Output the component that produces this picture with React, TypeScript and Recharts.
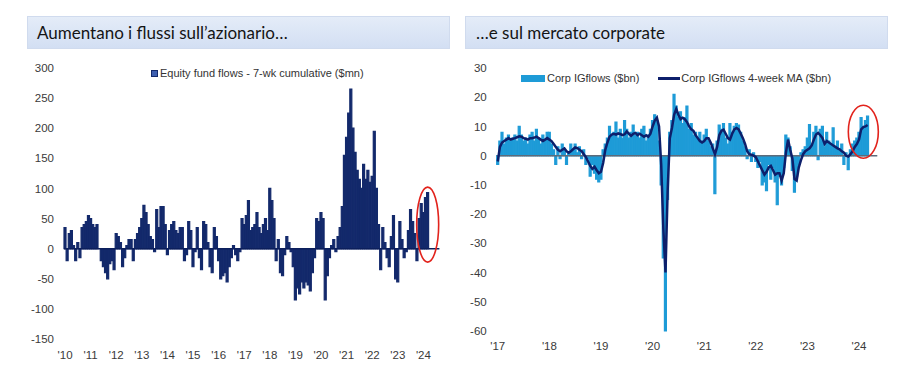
import {
  Bar,
  ComposedChart,
  Legend,
  Line,
  ReferenceDot,
  ReferenceLine,
  XAxis,
  YAxis
} from 'recharts';

// ---- left panel: equity fund flows, monthly, Jan 2010 .. Mar 2024 ----
const equityFlows = [
  35, -20, 25, 30, 5, -20, 10, -15, 35, 40, 45, 55, // 2010
  50, 40, 35, 40, 0, -20, -30, -40, -50, -25, -20, -35, // 2011
  25, 20, 10, -30, -15, 5, 15, 15, -20, 15, 25, 35, // 2012
  50, 72, 60, 40, 20, 15, -5, 65, 35, 70, 70, 40, // 2013
  -10, 30, 40, 45, 30, 25, 35, 35, -20, -10, 45, 30, // 2014
  -30, -5, 35, -15, -35, 45, 40, 10, -30, -40, 35, 20, // 2015
  -20, -50, -45, -40, -55, -30, -15, 5, -10, -20, -5, 50, // 2016
  40, 55, 80, 30, 35, 40, 60, 35, 25, 40, 50, 30, // 2017
  100, 80, 50, -20, 15, -40, -45, -10, 20, 10, -5, -30, // 2018
  -85, -65, -75, -55, -65, -55, -60, -70, -40, -15, 50, 45, // 2019
  60, 50, -85, -45, -15, 5, 15, -5, 20, 35, 70, 155, // 2020
  185, 225, 265, 200, 160, 130, 115, 100, 140, 115, 130, 110, // 2021
  120, 195, 100, 40, -35, 35, 10, -15, -30, 20, 55, -50, // 2022
  -55, 45, 15, -15, -5, 30, 65, 45, 25, -20, 50, 75, // 2023
  60, 85, 93 // 2024
];
const equityMonths = Array.from(
  { length: 176 },
  (_, i) => `${2010 + Math.floor(i / 12)}-${String((i % 12) + 1).padStart(2, '0')}`
);
const equityTicks = equityMonths.filter((m) => m.endsWith('-01'));
const equityYTicks = [-150, -100, -50, 0, 50, 100, 150, 200, 250, 300];

// ---- right panel: corp IG flows, half-monthly, Jan 2017 .. Mar 2024 ----
const corpFlows = [
  -3, 5, 8, 4, 6, 7, 5, 6, 7, 5, 10, 7, 5, 6, 4, 7, 8, 5, 9, 6, 4, 7, 5, 8, // 2017
  8, 4, 2, -3, 3, -1, 4, 2, -3, 1, 4, 2, 4, 1, 3, -1, 2, -3, -1, -7, -3, -6, -8, -9, // 2018
  -8, 2, 4, 6, 10, 7, 8, 11.5, 6, 9, 6, 12, 9, 6, 8, 10.5, 7, 8, 6, 9, 10, 5, 7, 9, // 2019
  12, 14, 12, 5, -10, -35, -60, -15, 8, 12, 21, 17, 13, 15, 11, 13, 17, 9, 11, 7, 8, 6, 8, 5, // 2020
  7, 9, 5, 3, 4, -13, 5, 10.5, 9, 11, 6, 4, 11, 8, 10, 11, 10.5, 8, 5, 3, -1, 2, -2, 1, // 2021
  -2, -4, -2, -10, -9, -12, -3, -8, -4, -9, -16.8, -7, -10, -4, 7, 6, 3, -5, -12.5, -7, -3, 1, 2, 3, // 2022
  6, 10.6, 3, 8, 10, -1.4, 9, 10, 3, 8, 5, 4, 9.5, 3, 5, 2, 4, -3, 1, -4.8, 2, 4, 5, 6, // 2023
  8, 13, 10, 12, 13.5 // 2024
];
const corpMA = [
  -2, 3, 4.5, 5, 5.5, 6, 5.5, 5.8, 6, 6.3, 6.6, 6.5, 6, 5.8, 5.5, 6, 6, 6.2, 6.5, 6, 5.5, 5, 5.5, 6, // 2017
  5.5, 5, 4, 3, 2, 1.5, 2, 2.5, 1.5, 1, 1.5, 2.2, 2.8, 2.6, 2, 1.5, 0.5, -0.5, -2, -3.5, -4.5, -3.8, -5, -6, // 2018
  -5.5, -2.5, 2, 4.5, 6.5, 7.2, 7.5, 7.2, 7.6, 7.4, 7, 7.3, 8.3, 7.5, 6.8, 7.5, 7.8, 7, 7.5, 7, 6.5, 7, 6.5, 7.5, // 2019
  10, 12, 13, 10, -3, -25, -40, -12, 6, 9.5, 14, 16, 14, 12.5, 13, 12.5, 11.5, 10, 9, 8.5, 7, 6, 5, 4.5, // 2020
  5, 6, 6, 4.5, 2.5, 0.5, 3, 7, 8.5, 8.9, 7.5, 6, 5.5, 7.5, 9, 9.5, 9, 7.5, 6, 4, 1.5, 0.5, 0.3, 0, // 2021
  -0.5, -2, -3.5, -5, -6.5, -5.5, -4, -3.5, -5, -6.5, -6, -6, -8.5, -6, 1, 5.5, 2, -1, -8, -8.5, -4, -1.5, 0.5, 1.5, // 2022
  2, 2.5, 3.5, 5.5, 7.2, 7.8, 7, 6, 4, 5, 4.5, 4, 3.5, 3, 2.5, 2.2, 1.5, 1, 0, -0.3, 0.5, 1.5, 3, 4, // 2023
  5.5, 9, 9.8, 10, 10.5 // 2024
];
const corpPeriods = Array.from({ length: 177 }, (_, i) => {
  const m = Math.floor(i / 2);
  return `${2017 + Math.floor(m / 12)}-${String((m % 12) + 1).padStart(2, '0')}${i % 2 ? 'b' : 'a'}`;
});
const corpTicks = corpPeriods.filter((p) => p.endsWith('-01a'));
const corpYTicks = [-60, -50, -40, -30, -20, -10, 0, 10, 20, 30];

const equityData = equityMonths.map((month, i) => ({ month, flow: equityFlows[i] ?? null }));
const corpData = corpPeriods.map((period, i) => ({
  period,
  flows: corpFlows[i] ?? null,
  ma: corpMA[i] ?? null
}));

const NARROW = "'Liberation Sans Narrow', 'Arial Narrow', 'Liberation Sans', sans-serif";
const NAVY = '#13296b';
const LIGHT_BLUE = '#1e9bd7';
const RED = '#e2231c';
const tickStyle = { fontSize: 11.5, fill: '#3a3a3a', fontFamily: NARROW };
const yearLabel = (v: string) => `'${v.slice(2, 4)}`;

function ChartLegend({ payload }: any) {
  return (
    <div style={{ display: 'flex', alignItems: 'center', fontFamily: NARROW, fontSize: 11, color: '#333', whiteSpace: 'nowrap' }}>
      {(payload || []).map((p: any) => (
        <span key={p.value} style={{ display: 'inline-flex', alignItems: 'center', marginRight: 19 }}>
          {p.type === 'line' ? (
            <span style={{ display: 'inline-block', width: 22, height: 3, background: p.color, marginRight: 1 }} />
          ) : p.type === 'square' ? (
            <span style={{ display: 'inline-block', width: 5, height: 5, background: '#3d5fb0', border: `1.5px solid ${p.color}`, marginRight: 2 }} />
          ) : (
            <span style={{ display: 'inline-block', width: 24, height: 7, background: p.color, marginRight: 2 }} />
          )}
          {p.value}
        </span>
      ))}
    </div>
  );
}

const ellipse = (rx: number, ry: number) => (props: any) => (
  <ellipse cx={props.cx} cy={props.cy} rx={rx} ry={ry} fill="none" stroke={RED} strokeWidth={1.6} />
);

function EquityChart() {
  return (
    <ComposedChart
      width={460}
      height={378}
      data={equityData}
      margin={{ top: 68, right: 20.6, bottom: 9, left: 24 }}
      barCategoryGap={0}
      barGap={0}
    >
      <XAxis
        dataKey="month"
        ticks={equityTicks}
        interval={0}
        tickFormatter={yearLabel}
        axisLine={false}
        tickLine={false}
        tickSize={0}
        tickMargin={12}
        height={30}
        tick={tickStyle}
      />
      <YAxis
        domain={[-150, 300]}
        ticks={equityYTicks}
        interval={0}
        width={40}
        axisLine={false}
        tickLine={false}
        tickSize={0}
        tickMargin={10}
        tick={tickStyle}
      />
      <Bar
        dataKey="flow"
        name="Equity fund flows - 7-wk cumulative ($mn)"
        fill={NAVY}
        stroke={NAVY}
        strokeWidth={1.2}
        legendType="square"
        isAnimationActive={false}
      />
      <ReferenceLine y={0} stroke="#0c1f5c" strokeWidth={1.5} />
      <ReferenceDot x="2024-03" y={40} r={1} shape={ellipse(11, 37.5)} />
      <Legend
        verticalAlign="middle"
        align="center"
        layout="horizontal"
        wrapperStyle={{ top: 67, left: 151, width: 'auto' }}
        content={<ChartLegend />}
      />
    </ComposedChart>
  );
}

function CorpChart() {
  return (
    <ComposedChart
      width={456}
      height={378}
      data={corpData}
      margin={{ top: 68, right: 38.7, bottom: 17, left: 6.7 }}
      barCategoryGap={0}
      barGap={0}
    >
      <XAxis
        dataKey="period"
        ticks={corpTicks}
        interval={0}
        tickFormatter={yearLabel}
        axisLine={false}
        tickLine={false}
        tickSize={0}
        tickMargin={11}
        height={30}
        tick={tickStyle}
      />
      <YAxis
        domain={[-60, 30]}
        ticks={corpYTicks}
        interval={0}
        width={30}
        axisLine={false}
        tickLine={false}
        tickSize={0}
        tickMargin={10}
        tick={tickStyle}
      />
      <Bar
        dataKey="flows"
        name="Corp IGflows ($bn)"
        fill={LIGHT_BLUE}
        stroke={LIGHT_BLUE}
        strokeWidth={1.2}
        legendType="rect"
        isAnimationActive={false}
      />
      <ReferenceLine y={0} stroke="#5d6b7a" strokeWidth={1.5} />
      <Line
        dataKey="ma"
        name="Corp IGflows 4-week MA ($bn)"
        type="linear"
        stroke="#0d1f6b"
        strokeWidth={2.5}
        dot={false}
        legendType="line"
        isAnimationActive={false}
      />
      <ReferenceDot x={corpPeriods[170]} y={8.2} r={1} shape={ellipse(15, 26.5)} />
      <Legend
        verticalAlign="middle"
        align="center"
        layout="horizontal"
        wrapperStyle={{ top: 72, left: 61, width: 'auto' }}
        content={<ChartLegend />}
      />
    </ComposedChart>
  );
}

const titleStyle = (left: number, width: number) => ({
  position: 'absolute' as const,
  left,
  top: 16,
  width,
  height: 33,
  boxSizing: 'border-box' as const,
  background: 'linear-gradient(to bottom, #e4ecf8, #d3dff3)',
  border: '1px solid #d0dbee',
  fontFamily: 'Lato, sans-serif',
  fontSize: 17,
  lineHeight: '31px',
  color: '#141414',
  paddingLeft: 9
});

export default function App() {
  return (
    <div style={{ position: 'absolute', left: 0, top: 0, width: 916, height: 378, background: '#fff', overflow: 'hidden' }}>
      <div style={{ position: 'absolute', left: 0, top: 0 }}>
        <EquityChart />
      </div>
      <div style={{ position: 'absolute', left: 460, top: 0 }}>
        <CorpChart />
      </div>
      <div style={titleStyle(27, 423)}>Aumentano i flussi sull’azionario…</div>
      <div style={{ ...titleStyle(465, 423), paddingLeft: 10 }}>…e sul mercato corporate</div>
    </div>
  );
}
